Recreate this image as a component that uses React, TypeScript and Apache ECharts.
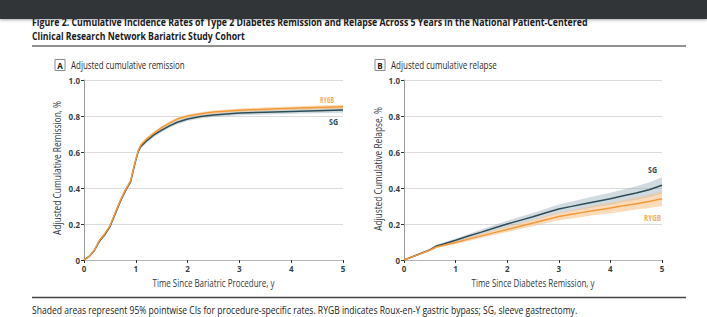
import React, { useEffect, useRef } from "react";
import * as echarts from "echarts";

// Panel A: cumulative remission
const remX = [0, 0.1, 0.2, 0.3, 0.4, 0.5, 0.6, 0.7, 0.8, 0.9, 0.95, 1.0, 1.05, 1.1, 1.2, 1.35, 1.5, 1.65, 1.8, 2.0, 2.25, 2.5, 3.0, 3.5, 4.0, 4.5, 5.0];
const remRygb = [0, 0.02, 0.055, 0.11, 0.145, 0.19, 0.26, 0.33, 0.39, 0.44, 0.5, 0.56, 0.61, 0.64, 0.67, 0.705, 0.735, 0.76, 0.783, 0.8, 0.812, 0.822, 0.832, 0.838, 0.843, 0.847, 0.851];
const remRygbCi = [0, 0.004, 0.006, 0.007, 0.008, 0.008, 0.009, 0.009, 0.009, 0.009, 0.009, 0.009, 0.009, 0.009, 0.009, 0.009, 0.009, 0.009, 0.009, 0.009, 0.009, 0.009, 0.009, 0.01, 0.01, 0.011, 0.012];
const remSg = [0, 0.02, 0.053, 0.105, 0.14, 0.185, 0.255, 0.325, 0.385, 0.435, 0.495, 0.555, 0.605, 0.632, 0.66, 0.695, 0.722, 0.745, 0.765, 0.783, 0.797, 0.806, 0.816, 0.821, 0.825, 0.829, 0.833];
const remSgCi = [0, 0.004, 0.006, 0.008, 0.009, 0.01, 0.01, 0.011, 0.011, 0.011, 0.011, 0.011, 0.011, 0.011, 0.011, 0.011, 0.011, 0.011, 0.011, 0.011, 0.011, 0.011, 0.012, 0.012, 0.013, 0.014, 0.015];

// Panel B: cumulative relapse
const relX = [0, 0.25, 0.5, 0.63, 0.75, 1.0, 1.25, 1.5, 1.75, 2.0, 2.25, 2.5, 2.75, 3.0, 3.25, 3.5, 3.75, 4.0, 4.25, 4.5, 4.75, 5.0];
const relSg = [0, 0.028, 0.056, 0.078, 0.088, 0.11, 0.133, 0.155, 0.178, 0.2, 0.22, 0.24, 0.262, 0.283, 0.298, 0.313, 0.327, 0.34, 0.357, 0.372, 0.39, 0.415];
const relSgCi = [0, 0.004, 0.006, 0.007, 0.008, 0.01, 0.012, 0.014, 0.016, 0.018, 0.02, 0.021, 0.023, 0.025, 0.027, 0.029, 0.031, 0.033, 0.035, 0.038, 0.041, 0.045];
const relRygb = [0, 0.027, 0.054, 0.072, 0.08, 0.097, 0.116, 0.134, 0.152, 0.17, 0.188, 0.206, 0.224, 0.242, 0.254, 0.266, 0.278, 0.289, 0.301, 0.313, 0.325, 0.34];
const relRygbCi = [0, 0.003, 0.005, 0.006, 0.007, 0.009, 0.01, 0.012, 0.013, 0.015, 0.016, 0.018, 0.019, 0.021, 0.023, 0.025, 0.027, 0.029, 0.031, 0.033, 0.036, 0.04];

const yTicks = [0, 0.2, 0.4, 0.6, 0.8, 1.0];
const xTicks = [0, 1, 2, 3, 4, 5];

const titleLine1 = "Figure 2. Cumulative Incidence Rates of Type 2 Diabetes Remission and Relapse Across 5 Years in the National Patient-Centered";
const titleLine2 = "Clinical Research Network Bariatric Study Cohort";
const caption = "Shaded areas represent 95% pointwise CIs for procedure-specific rates. RYGB indicates Roux-en-Y gastric bypass; SG, sleeve gastrectomy.";
const xNameA = "Time Since Bariatric Procedure, y";
const xNameB = "Time Since Diabetes Remission, y";
const yNameA = "Adjusted Cumulative Remission, %";
const yNameB = "Adjusted Cumulative Relapse, %";

const FONT = "'Open Sans', 'Noto Sans', sans-serif";
const ORANGE = "#f29a3a";
const ORANGE_LABEL = "#f2ad66";
const ORANGE_BAND = "rgba(247, 190, 130, 0.55)";
const TEAL = "#2c4d57";
const TEAL_BAND = "rgba(150, 172, 184, 0.45)";

let measureCtx: CanvasRenderingContext2D | null = null;
function measure(text: string, size: number, weight: string) {
  if (!measureCtx) measureCtx = document.createElement("canvas").getContext("2d");
  if (!measureCtx) return text.length * size * 0.55;
  measureCtx.font = `${weight} ${size}px ${FONT}`;
  return measureCtx.measureText(text).width;
}

// text squeezed horizontally to a target width
function fitText(text: string, x: number, y: number, width: number, size: number, weight: string, fill: string, opts: any = {}) {
  const w = measure(text, size, weight);
  const s = w > 0 ? width / w : 1;
  return {
    type: "text",
    x,
    y,
    scaleX: s,
    rotation: opts.rotation || 0,
    z: opts.z || 5,
    style: { text, fontFamily: FONT, fontSize: size, fontWeight: weight, fill, align: opts.align || "left", verticalAlign: "middle" },
  };
}

function bandSeries(xs: number[], ys: number[], ci: number[], color: string, idx: number) {
  return {
    type: "custom",
    xAxisIndex: idx,
    yAxisIndex: idx,
    silent: true,
    z: 1,
    data: xs.map((x, i) => [x, ys[i] - ci[i], ys[i] + ci[i]]),
    encode: { x: 0, y: [1, 2] },
    renderItem: (params: any, api: any) => {
      if (params.dataIndex !== 0) return null;
      const upper = xs.map((x, i) => api.coord([x, ys[i] + ci[i]]));
      const lower = xs.map((x, i) => api.coord([x, ys[i] - ci[i]])).reverse();
      return { type: "polygon", shape: { points: upper.concat(lower) }, style: { fill: color } };
    },
  };
}

function lineSeries(name: string, xs: number[], ys: number[], color: string, idx: number) {
  return {
    name,
    type: "line",
    xAxisIndex: idx,
    yAxisIndex: idx,
    data: xs.map((x, i) => [x, ys[i]]),
    symbol: "none",
    lineStyle: { color, width: 1.5 },
    z: 3,
  };
}

function xAxisCfg(idx: number) {
  return {
    type: "value",
    gridIndex: idx,
    min: 0,
    max: 5,
    interval: 1,
    axisLine: { show: true, lineStyle: { color: "#b5b5b5", width: 1 } },
    axisTick: { show: true, length: 3, lineStyle: { color: "#333" } },
    axisLabel: { fontFamily: FONT, fontSize: 8, fontWeight: "bold", color: "#3a3f47", margin: 4, formatter: (v: number) => (xTicks.includes(v) ? String(v) : "") },
    splitLine: { show: false },
  };
}

function yAxisCfg(idx: number) {
  return {
    type: "value",
    gridIndex: idx,
    min: 0,
    max: 1,
    interval: 0.2,
    axisLine: { show: true, lineStyle: { color: "#9a9a9a", width: 1 } },
    axisTick: { show: true, length: 3, lineStyle: { color: "#333" } },
    axisLabel: {
      fontFamily: FONT,
      fontSize: 8,
      fontWeight: "bold",
      color: "#3a3f47",
      margin: 4,
      formatter: (v: number) => {
        const t = yTicks.find((k) => Math.abs(k - v) < 1e-9);
        if (t === undefined) return "";
        return t === 0 ? "0" : t.toFixed(1);
      },
    },
    splitLine: { show: true, lineStyle: { color: "#dcdcdc", width: 1 } },
  };
}

function panelLabel(x: number, letter: string, text: string, textWidth: number) {
  return [
    { type: "rect", shape: { x: x, y: 59.5, width: 10, height: 11 }, style: { fill: "#fff", stroke: "#8a8a8a", lineWidth: 1 } },
    { type: "text", x: x + 5, y: 65, style: { text: letter, fontFamily: FONT, fontSize: 8, fontWeight: "bold", fill: "#222", align: "center", verticalAlign: "middle" } },
    fitText(text, x + 16, 65, textWidth, 10, "normal", "#2a2a2a"),
  ];
}

export default function App() {
  const ref = useRef<HTMLDivElement>(null);
  useEffect(() => {
    document.body.style.margin = "0";
    if (!ref.current) return;
    const chart = echarts.init(ref.current, undefined, { renderer: "svg" });
    const option = {
      animation: false,
      backgroundColor: "#ffffff",
      grid: [
        { left: 84, top: 80, width: 259, height: 180 },
        { left: 404, top: 80, width: 258, height: 180 },
      ],
      xAxis: [xAxisCfg(0), xAxisCfg(1)],
      yAxis: [yAxisCfg(0), yAxisCfg(1)],
      series: [
        bandSeries(remX, remSg, remSgCi, TEAL_BAND, 0),
        bandSeries(remX, remRygb, remRygbCi, ORANGE_BAND, 0),
        lineSeries("A-SG", remX, remSg, TEAL, 0),
        lineSeries("A-RYGB", remX, remRygb, ORANGE, 0),
        bandSeries(relX, relSg, relSgCi, TEAL_BAND, 1),
        bandSeries(relX, relRygb, relRygbCi, ORANGE_BAND, 1),
        lineSeries("B-SG", relX, relSg, TEAL, 1),
        lineSeries("B-RYGB", relX, relRygb, ORANGE, 1),
      ],
      graphic: [
        fitText(titleLine1, 32, 21.5, 556, 11, "bold", "#1a1a1a", { z: 1 }),
        fitText(titleLine2, 32, 36, 213, 11, "bold", "#1a1a1a"),
        { type: "rect", z: 10, shape: { x: 0, y: 0, width: 707, height: 19 }, style: { fill: "#323538", shadowBlur: 3, shadowColor: "rgba(0,0,0,0.35)", shadowOffsetY: 1 } },
        { type: "line", shape: { x1: 32, y1: 46, x2: 686, y2: 46 }, style: { stroke: "#222", lineWidth: 1.2 } },
        ...panelLabel(55, "A", "Adjusted cumulative remission", 114),
        ...panelLabel(375, "B", "Adjusted cumulative relapse", 106),
        fitText(xNameA, 213.5, 283, 122, 10, "normal", "#2f3a45", { align: "center" }),
        fitText(xNameB, 533, 283, 123, 10, "normal", "#2f3a45", { align: "center" }),
        fitText(yNameA, 57, 168, 134, 10, "normal", "#2f3a45", { align: "center", rotation: Math.PI / 2 }),
        fitText(yNameB, 378, 169, 124, 10, "normal", "#2f3a45", { align: "center", rotation: Math.PI / 2 }),
        fitText("RYGB", 320, 100, 14, 8, "bold", ORANGE_LABEL),
        fitText("SG", 329, 122, 9, 8, "bold", TEAL),
        fitText("SG", 648, 170, 9, 8, "bold", TEAL),
        fitText("RYGB", 644, 218, 17, 8, "bold", ORANGE_LABEL),
        { type: "line", shape: { x1: 32, y1: 297.5, x2: 686, y2: 297.5 }, style: { stroke: "#444", lineWidth: 1.6 } },
        fitText(caption, 32, 310, 546, 10, "normal", "#222"),
      ],
    };
    chart.setOption(option as any);
    return () => chart.dispose();
  }, []);
  return <div ref={ref} style={{ width: 707, height: 317 }} />;
}
